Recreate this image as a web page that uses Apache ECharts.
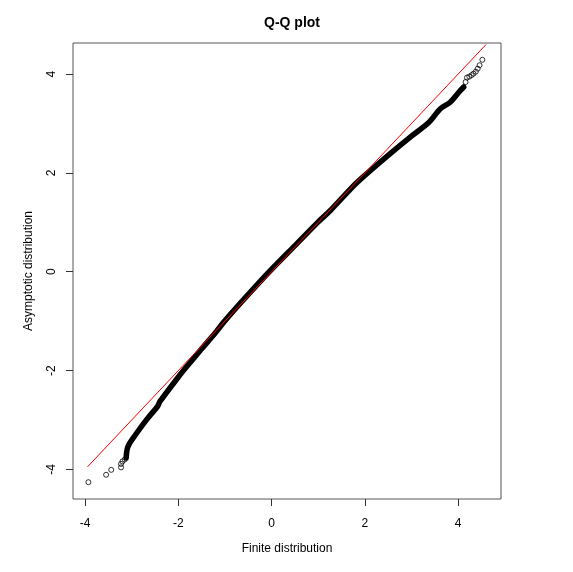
<!DOCTYPE html>
<html><head><meta charset="utf-8">
<script src="https://cdn.jsdelivr.net/npm/echarts@6/dist/echarts.min.js"></script>
<style>html,body{margin:0;padding:0;background:#fff}#c{width:573px;height:572px}</style>
</head><body><div id="c"></div>
<script>
// dense body of the Q-Q points (overlapping circles -> thick band)
const denseX = [-3.12, -3.10, -3.05, -2.92, -2.71, -2.60, -2.45, -2.39, -2.00, -1.82, -1.50, -1.21, -0.99, -0.50, 0.00, 0.50, 1.00, 1.26, 1.76, 2.00, 2.48, 2.98, 3.37, 3.62, 3.83, 4.05, 4.12];
const denseY = [-3.77, -3.60, -3.48, -3.30, -3.03, -2.90, -2.73, -2.62, -2.13, -1.92, -1.56, -1.24, -0.98, -0.46, 0.05, 0.53, 1.01, 1.24, 1.74, 1.95, 2.34, 2.73, 3.02, 3.30, 3.43, 3.67, 3.74];
// isolated tail points
const tailX = [-3.93, -3.55, -3.44, -3.23, -3.23, -3.20, -3.15, 4.16, 4.19, 4.24, 4.29, 4.33, 4.38, 4.42, 4.46, 4.52];
const tailY = [-4.26, -4.11, -4.01, -3.96, -3.89, -3.84, -3.80, 3.84, 3.93, 3.95, 3.98, 4.01, 4.05, 4.11, 4.18, 4.29];
// reference line y = x
const refX = [-3.95, 4.60];
const refY = [-3.95, 4.60];
const tickValues = [-4, -2, 0, 2, 4];
const xRange = [-4.26, 4.92];
const yRange = [-4.60, 4.63];

const zip = (a, b) => a.map((v, i) => [v, b[i]]);
const font = 'Liberation Sans, Arial, sans-serif';
const chart = echarts.init(document.getElementById('c'), null, {renderer: 'canvas'});
chart.setOption({
  backgroundColor: '#fff',
  animation: false,
  title: {text: 'Q-Q plot', left: 287, top: 11, textAlign: 'center',
    textStyle: {fontFamily: font, fontSize: 14, fontWeight: 'bold', color: '#000'}},
  grid: {left: 73, top: 43, width: 428, height: 456, show: true, borderColor: '#555', borderWidth: 1, backgroundColor: 'transparent'},
  xAxis: {type: 'value', min: xRange[0], max: xRange[1],
    name: 'Finite distribution', nameLocation: 'middle', nameGap: 44,
    nameTextStyle: {fontFamily: font, fontSize: 12, color: '#000'},
    axisLine: {show: false, onZero: false}, splitLine: {show: false},
    axisTick: {show: true, inside: false, length: 7, customValues: tickValues, lineStyle: {color: '#333'}},
    axisLabel: {customValues: tickValues, margin: 19, fontFamily: font, fontSize: 12, color: '#000'}},
  yAxis: {type: 'value', min: yRange[0], max: yRange[1],
    name: 'Asymptotic distribution', nameLocation: 'middle', nameGap: 38,
    nameTextStyle: {fontFamily: font, fontSize: 12, color: '#000'},
    axisLine: {show: false, onZero: false}, splitLine: {show: false},
    axisTick: {show: true, inside: false, length: 7, customValues: tickValues, lineStyle: {color: '#333'}},
    axisLabel: {customValues: tickValues, rotate: 90, margin: 15, fontFamily: font, fontSize: 12, color: '#000'}},
  series: [
    {type: 'line', data: zip(denseX, denseY), showSymbol: false, symbol: 'none', smooth: 0.3,
      lineStyle: {color: '#000', width: 5.5, cap: 'round', join: 'round'}, z: 2},
    {type: 'scatter', data: zip(tailX, tailY), symbol: 'circle', symbolSize: 5,
      itemStyle: {color: 'rgba(0,0,0,0)', borderColor: '#000', borderWidth: 1}, z: 3},
    {type: 'line', data: zip(refX, refY), showSymbol: false, symbol: 'none',
      lineStyle: {color: '#ff0000', width: 1}, z: 4}
  ]
});
</script></body></html>
